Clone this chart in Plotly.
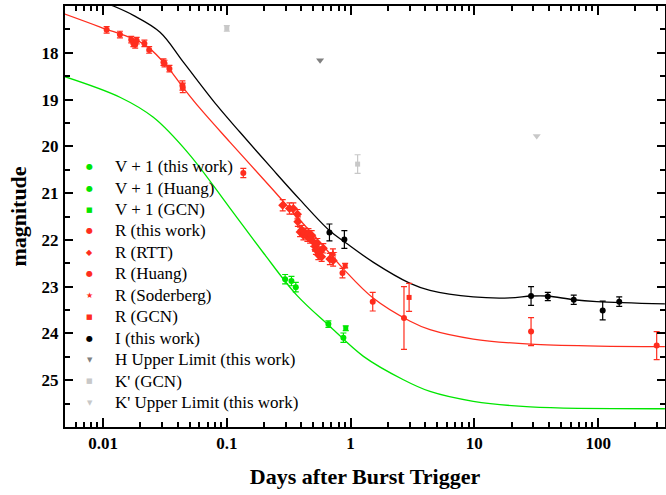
import plotly.graph_objects as go

# ---------------- data ----------------
# V + 1
v_this_x = [0.296, 0.333, 0.361]
v_this_y = [22.84, 22.88, 23.01]
v_this_e = [0.10, 0.10, 0.10]
v_huang_x = [0.662, 0.875]
v_huang_y = [23.80, 24.09]
v_huang_e = [0.07, 0.10]
v_gcn_x = [0.914]
v_gcn_y = [23.89]
v_gcn_e = [0.05]

# R
r_this_x = [0.0107, 0.0137, 0.0169, 0.0176, 0.0182, 0.0187, 0.0216, 0.0236,
            0.0308, 0.0314, 0.0344, 0.0438, 0.0441, 28.7, 297]
r_this_y = [17.51, 17.61, 17.72, 17.80, 17.83, 17.74, 17.80, 17.94,
            18.20, 18.23, 18.34, 18.70, 18.75, 23.96, 24.26]
r_this_e = [0.07, 0.07, 0.07, 0.07, 0.07, 0.07, 0.07, 0.07,
            0.07, 0.07, 0.07, 0.10, 0.10, 0.30, 0.30]
r_rtt_x = [0.283, 0.321, 0.345, 0.372, 0.375, 0.391, 0.404, 0.416, 0.430, 0.448,
           0.457, 0.471, 0.485, 0.500, 0.516, 0.525, 0.539, 0.549, 0.566, 0.584,
           0.602, 0.68, 0.723]
r_rtt_y = [21.26, 21.33, 21.33, 21.45, 21.61, 21.83, 21.79, 21.90, 21.85, 21.93,
           21.86, 21.97, 21.90, 22.04, 22.14, 22.21, 22.07, 22.32, 22.25, 22.36,
           22.18, 22.41, 22.44]
r_rtt_e = [0.12, 0.12, 0.12, 0.10, 0.10, 0.10, 0.10, 0.10, 0.10, 0.10,
           0.10, 0.10, 0.10, 0.10, 0.10, 0.10, 0.10, 0.10, 0.10, 0.10,
           0.10, 0.12, 0.12]
r_huang_x = [0.136, 0.86, 1.51, 2.70]
r_huang_y = [20.57, 22.71, 23.32, 23.67]
r_huang_e = [0.10, 0.10, 0.20, 0.67]
r_sod_x = [0.72]
r_sod_y = [22.29]
r_sod_e = [0.10]
r_gcn_x = [0.904, 2.97]
r_gcn_y = [22.55, 23.23]
r_gcn_e = [0.05, 0.30]

# I
i_this_x = [0.675, 0.891, 28.7, 39.2, 63.5, 108.8, 148]
i_this_y = [21.84, 21.99, 23.20, 23.21, 23.28, 23.51, 23.32]
i_this_e = [0.18, 0.19, 0.20, 0.09, 0.10, 0.20, 0.10]

# H / K'
h_ul_x = [0.567]
h_ul_y = [18.16]
k_gcn_x = [0.100, 1.14]
k_gcn_y = [17.48, 20.38]
k_gcn_e = [0.06, 0.20]
k_ul_x = [31.9]
k_ul_y = [19.78]

# model curves
mod_i_x = [0.0049, 0.0121, 0.0176, 0.0289, 0.0446, 0.083, 0.128, 0.238, 0.393,
           0.675, 0.912, 1.53, 3.03, 4.38, 9.8, 19.4, 28.7, 39, 63.5, 97.5, 346]
mod_i_y = [16.62, 17.00, 17.20, 17.56, 18.20, 19.12, 19.70, 20.51, 21.15,
           21.80, 22.06, 22.48, 22.93, 23.08, 23.22, 23.24, 23.20, 23.20, 23.28, 23.32, 23.37]
mod_r_x = [0.0049, 0.0095, 0.0212, 0.0308, 0.0446, 0.0608, 0.106, 0.238, 0.367,
           0.567, 0.875, 1.53, 3.03, 4.38, 9.8, 28.3, 100, 346]
mod_r_y = [17.17, 17.45, 17.81, 18.20, 18.75, 19.19, 19.91, 20.94, 21.50,
           22.05, 22.62, 23.25, 23.74, 23.92, 24.12, 24.23, 24.27, 24.28]
mod_v_x = [0.0049, 0.0137, 0.0255, 0.049, 0.106, 0.198, 0.367, 0.682, 1.27,
           2.67, 4.38, 9.8, 28.3, 346]
mod_v_y = [18.51, 18.95, 19.38, 20.15, 21.32, 22.28, 23.18, 23.85, 24.49,
           24.99, 25.24, 25.45, 25.57, 25.61]

GREEN = '#00e600'
RED = '#ff2d1e'
BLACK = '#000000'
DGRAY = '#808080'
LGRAY = '#c8c8c8'

fig = go.Figure()

# model lines
for mx, my, c in [(mod_v_x, mod_v_y, GREEN), (mod_r_x, mod_r_y, RED), (mod_i_x, mod_i_y, BLACK)]:
    fig.add_trace(go.Scatter(x=mx, y=my, mode='lines', showlegend=False,
                             line=dict(color=c, width=1.3, shape='spline', smoothing=1.0),
                             hoverinfo='skip'))

legend_items = []  # (name, glyph, color, glyph size)

def pts(x, y, e, name, color, symbol, size, glyph, gsize):
    err = None
    if e is not None:
        err = dict(type='data', array=e, visible=True, color=color, thickness=1.2, width=3)
    fig.add_trace(go.Scatter(x=x, y=y, mode='markers', name=name, error_y=err,
                             showlegend=False,
                             marker=dict(color=color, symbol=symbol, size=size,
                                         line=dict(width=0))))
    legend_items.append((name, glyph, color, gsize))

pts(v_this_x, v_this_y, v_this_e, 'V + 1 (this work)', GREEN, 'circle', 6, '\u25cf', 8)
pts(v_huang_x, v_huang_y, v_huang_e, 'V + 1 (Huang)', GREEN, 'circle', 6, '\u25cf', 8)
pts(v_gcn_x, v_gcn_y, v_gcn_e, 'V + 1 (GCN)', GREEN, 'square', 5, '\u25a0', 7)
pts(r_this_x, r_this_y, r_this_e, 'R (this work)', RED, 'circle', 6, '\u25cf', 8)
pts(r_rtt_x, r_rtt_y, r_rtt_e, 'R (RTT)', RED, 'diamond', 7, '\u25c6', 8)
pts(r_huang_x, r_huang_y, r_huang_e, 'R (Huang)', RED, 'circle', 6, '\u25cf', 8)
pts(r_sod_x, r_sod_y, r_sod_e, 'R (Soderberg)', RED, 'star', 7, '\u2605', 8)
pts(r_gcn_x, r_gcn_y, r_gcn_e, 'R (GCN)', RED, 'square', 5, '\u25a0', 7)
pts(i_this_x, i_this_y, i_this_e, 'I (this work)', BLACK, 'circle', 6, '\u25cf', 8)
pts(h_ul_x, h_ul_y, None, 'H Upper Limit (this work)', DGRAY, 'triangle-down', 7, '\u25bc', 7)
pts(k_gcn_x, k_gcn_y, k_gcn_e, "K' (GCN)", LGRAY, 'square', 5, '\u25a0', 7)
pts(k_ul_x, k_ul_y, None, "K' Upper Limit (this work)", LGRAY, 'triangle-down', 7, '\u25bc', 7)

FONT = 'Liberation Serif, Times New Roman, serif'

# legend drawn as text annotations (fixed line spacing like the original)
L, T, PW, PH = 65, 5.7, 600, 421.6
annotations = []
for i, (name, glyph, color, gsize) in enumerate(legend_items):
    yc = 166.5 + i * 21.5
    yp = 1 - (yc - T) / PH
    annotations.append(dict(xref='paper', yref='paper', x=(89.5 - L) / PW, y=yp,
                            text=glyph, showarrow=False, xanchor='center', yanchor='middle',
                            font=dict(family='DejaVu Sans', size=gsize, color=color)))
    annotations.append(dict(xref='paper', yref='paper', x=(113 - L) / PW, y=yp,
                            text=name, showarrow=False, xanchor='left', yanchor='middle',
                            font=dict(family=FONT, size=17, color='black')))

x_minor = [m * 10 ** p for p in range(-3, 3) for m in range(2, 10)]
fig.update_layout(
    width=666, height=495,
    margin=dict(l=65, r=1, t=6, b=68),
    paper_bgcolor='white', plot_bgcolor='white',
    font=dict(family=FONT, color='black'),
    showlegend=False,
    annotations=annotations,
    xaxis=dict(type='log', range=[-2.307, 2.54], automargin=False,
               tickvals=[0.01, 0.1, 1, 10, 100], ticktext=['0.01', '0.1', '1', '10', '100'],
               ticks='inside', ticklen=9, tickwidth=2, tickcolor='black',
               showline=True, linewidth=2, linecolor='black', mirror='ticks',
               showgrid=False, zeroline=False,
               tickfont=dict(family=FONT, size=17, weight='bold'),
               minor=dict(tickvals=x_minor, ticks='inside', ticklen=5, tickwidth=1.5,
                          tickcolor='black', showgrid=False),
               title=dict(text='Days after Burst Trigger', standoff=16,
                          font=dict(family=FONT, size=22, weight='bold'))),
    yaxis=dict(range=[26, 17], tickvals=[18, 19, 20, 21, 22, 23, 24, 25], automargin=False,
               ticks='inside', ticklen=8, tickwidth=2, tickcolor='black',
               showline=True, linewidth=2, linecolor='black', mirror='ticks',
               showgrid=False, zeroline=False, ticklabelstandoff=1,
               tickfont=dict(family=FONT, size=17, weight='bold'),
               minor=dict(dtick=0.5, ticks='inside', ticklen=5, tickwidth=1.5,
                          tickcolor='black', showgrid=False),
               title=dict(text='magnitude', standoff=9,
                          font=dict(family=FONT, size=22, weight='bold'))),
)

fig.write_html('out.html', config={'displayModeBar': False},
               post_script="document.body.style.margin='0';document.body.style.padding='0';")
